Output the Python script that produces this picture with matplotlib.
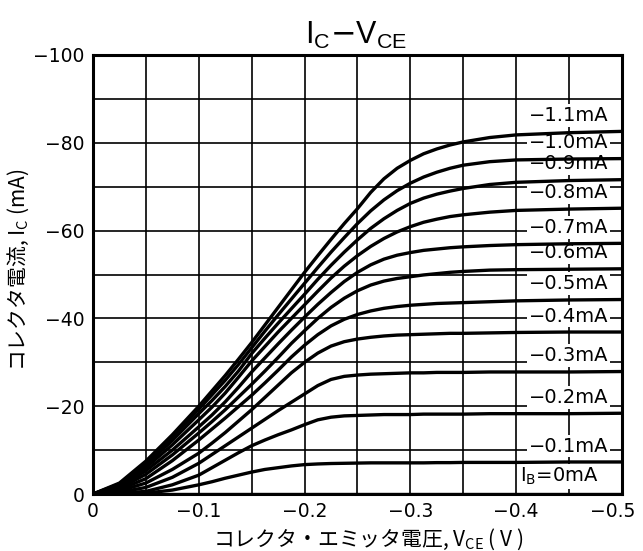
import matplotlib
matplotlib.use("Agg")
import matplotlib.pyplot as plt
from matplotlib.transforms import ScaledTranslation

# collector-emitter voltage sample points (V)
v_ce = [0, -0.025, -0.05, -0.075, -0.1, -0.1125, -0.125, -0.1375, -0.15, -0.1625,
        -0.175, -0.1875, -0.2, -0.2125, -0.225, -0.2375, -0.25, -0.2625, -0.275, -0.2875,
        -0.3, -0.3125, -0.325, -0.3375, -0.35, -0.375, -0.4, -0.45, -0.5]

# base current of each curve (mA)
ib_ma = [-1.1, -1.0, -0.9, -0.8, -0.7, -0.6, -0.5, -0.4, -0.3, -0.2, -0.1, 0]

# collector current (mA) for each base current, read at the v_ce points
ic_11 = [0, -2.5, -7.5, -13.5, -20, -23.5, -27, -30.7, -34.5, -38.5, -42.5, -46.5, -50.5, -54.3,
         -58, -61.6, -65, -68.7, -71.8, -74.2, -76.0, -77.5, -78.6, -79.5, -80.2, -81.2, -81.8, -82.3, -82.6]
ic_10 = [0, -2.3, -7.1, -13.0, -19.3, -22.6, -25.9, -29.5, -33.3, -37.1, -40.8, -44.4, -48.0, -51.6,
         -55.1, -58.4, -61.6, -64.5, -67.0, -69.1, -70.8, -72.2, -73.3, -74.2, -74.9, -75.7, -76.1, -76.3, -76.4]
ic_09 = [0, -2.1, -6.6, -12.2, -18.3, -21.3, -24.5, -28.0, -32.0, -35.5, -38.9, -42.2, -45.5, -48.9,
         -52.1, -55.1, -57.9, -60.5, -62.7, -64.6, -66.2, -67.4, -68.3, -69.0, -69.6, -70.5, -71.0, -71.4, -71.6]
ic_08 = [0, -1.9, -6.0, -11.2, -16.9, -19.8, -23.0, -26.6, -30.3, -33.6, -36.9, -40.0, -43.1, -46.2,
         -49.2, -51.9, -54.3, -56.4, -58.2, -59.7, -60.9, -61.9, -62.6, -63.2, -63.6, -64.2, -64.6, -64.9, -65.1]
ic_07 = [0, -1.6, -5.3, -10.0, -15.3, -18.0, -21.0, -24.3, -27.8, -31.0, -34.2, -37.3, -40.3, -43.2,
         -45.9, -48.4, -50.5, -52.2, -53.5, -54.4, -55.0, -55.5, -55.8, -56.1, -56.3, -56.6, -56.8, -57.0, -57.1]
ic_06 = [0, -1.3, -4.5, -8.9, -13.9, -16.5, -19.2, -22.1, -25.0, -28.0, -31.1, -34.3, -37.2, -40.0,
         -42.5, -44.6, -46.3, -47.6, -48.5, -49.1, -49.5, -49.9, -50.2, -50.5, -50.7, -51.0, -51.1, -51.2, -51.3]
ic_05 = [0, -1.0, -3.5, -7.6, -12.3, -14.8, -17.3, -19.9, -22.5, -25.3, -28.2, -31.2, -33.9, -36.3,
         -38.3, -39.8, -40.9, -41.7, -42.3, -42.7, -43.0, -43.2, -43.4, -43.5, -43.6, -43.8, -44.0, -44.2, -44.3]
ic_04 = [0, -0.7, -2.5, -5.6, -9.3, -11.6, -14.0, -16.6, -19.2, -22.0, -24.8, -27.6, -30.0, -32.1,
         -33.7, -34.7, -35.3, -35.7, -36.0, -36.2, -36.3, -36.4, -36.5, -36.6, -36.6, -36.7, -36.8, -36.9, -36.9]
ic_03 = [0, -0.4, -1.5, -3.8, -7.0, -9.0, -11.0, -13.0, -15.0, -17.0, -19.0, -20.9, -22.8, -24.7,
         -26.1, -26.8, -27.1, -27.3, -27.4, -27.5, -27.6, -27.6, -27.7, -27.7, -27.7, -27.8, -27.8, -27.8, -27.9]
ic_02 = [0, -0.2, -0.6, -2.1, -4.3, -6.0, -7.7, -9.4, -11.0, -12.3, -13.5, -14.6, -15.8, -16.9,
         -17.5, -17.8, -17.9, -18.0, -18.1, -18.1, -18.1, -18.2, -18.2, -18.2, -18.2, -18.3, -18.3, -18.3, -18.4]
ic_01 = [0, -0.1, -0.2, -0.9, -2.1, -2.8, -3.6, -4.3, -5.0, -5.6, -6.0, -6.4, -6.7, -6.85,
         -6.95, -7.0, -7.05, -7.1, -7.1, -7.1, -7.1, -7.1, -7.15, -7.15, -7.2, -7.2, -7.2, -7.3, -7.3]
ic_00 = [0] * len(v_ce)
ic_ma = [ic_11, ic_10, ic_09, ic_08, ic_07, ic_06, ic_05, ic_04, ic_03, ic_02, ic_01, ic_00]

x_ticks = [0, -0.1, -0.2, -0.3, -0.4, -0.5]
x_tick_labels = ["0", "\u22120.1", "\u22120.2", "\u22120.3", "\u22120.4", "\u22120.5"]
y_ticks = [0, -20, -40, -60, -80, -100]
y_tick_labels = ["0", "\u221220", "\u221240", "\u221260", "\u221280", "\u2212100"]

plt.rcParams['font.family'] = ['DejaVu Sans']
jp_font = ['Noto Sans CJK JP', 'DejaVu Sans']

fig = plt.figure(figsize=(6.43, 5.51), dpi=100)
ax = fig.add_axes([0.1446, 0.1034, 0.8227, 0.7968])

ax.set_xlim(0, -0.5)
ax.set_ylim(0, -100)

# grid every 0.05 V and 10 mA
ax.set_xticks([-0.05 * i for i in range(11)], minor=True)
ax.set_yticks([-10 * i for i in range(11)], minor=True)
ax.set_xticks(x_ticks)
ax.set_xticklabels(x_tick_labels, fontsize=13.5)
ax.set_yticks(y_ticks)
ax.set_yticklabels(y_tick_labels, fontsize=13.5)
ax.grid(True, which='both', color='black', linewidth=1.2, zorder=1)
ax.set_axisbelow(True)
ax.tick_params(which='both', length=0)
ax.tick_params(axis='x', pad=6)
ax.tick_params(axis='y', pad=6)
for sp in ax.spines.values():
    sp.set_linewidth(2.2)

# keep the last voltage label inside the figure
last = ax.get_xticklabels()[-1]
last.set_transform(last.get_transform() + ScaledTranslation(-7 / 72, 0, fig.dpi_scale_trans))

for ib, ic in zip(ib_ma, ic_ma):
    ax.plot(v_ce, ic, color='black', linewidth=2.4, solid_capstyle='butt', zorder=4)
    if ib == 0:
        txt = r"I$_\mathregular{B}$=0mA"
        ax.text(-0.404, ic[-1] - 4.0, txt, fontsize=14, ha='left', va='center', zorder=3,
                bbox=dict(facecolor='white', edgecolor='none', pad=1.2))
    else:
        txt = "\u2212%.1fmA" % abs(ib)
        ax.text(-0.487, ic[-1] - 3.6, txt, fontsize=14, ha='right', va='center', zorder=3,
                bbox=dict(facecolor='white', edgecolor='none', pad=1.2))

fig.text(0.553, 0.935, r"I$_\mathregular{C}$$-$V$_\mathregular{CE}$", fontsize=22,
         family=['Liberation Sans', 'DejaVu Sans'], ha='center', va='center')
ax.set_xlabel(r"コレクタ・エミッタ電圧, V$_\mathregular{CE}$ ( V )", family=jp_font, fontsize=15)
ax.set_ylabel(r"コレクタ電流, I$_\mathregular{C}$ (mA)", family=jp_font, fontsize=15)
ax.xaxis.set_label_coords(0.52, -0.075)
ax.yaxis.set_label_coords(-0.118, 0.51)

fig.savefig("out.png", dpi=100)
